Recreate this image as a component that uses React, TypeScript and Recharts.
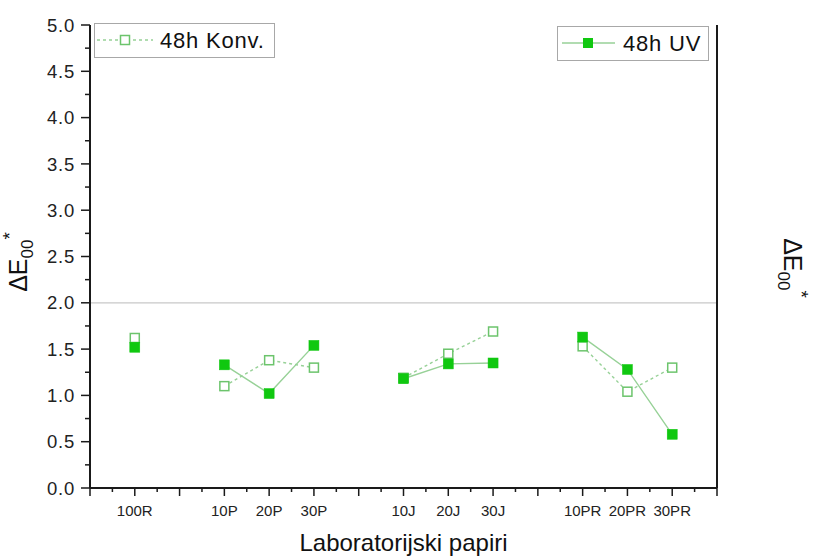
import React from 'react';
import { LineChart, Line, XAxis, YAxis, ReferenceLine } from 'recharts';

// slots on the x axis; empty names are the gaps between paper groups
const categories = ['', '100R', '', '10P', '20P', '30P', '', '10J', '20J', '30J', '', '10PR', '20PR', '30PR', ''];
const konv48h = [null, 1.62, null, 1.1, 1.38, 1.3, null, 1.19, 1.45, 1.69, null, 1.53, 1.04, 1.3, null];
const uv48h = [null, 1.52, null, 1.33, 1.02, 1.54, null, 1.18, 1.34, 1.35, null, 1.63, 1.28, 0.58, null];
const yTicks = [0, 0.5, 1, 1.5, 2, 2.5, 3, 3.5, 4, 4.5, 5];

const data = categories.map((name, i) => ({ name, konv: konv48h[i], uv: uv48h[i] }));

const W = 813;
const H = 559;
const LEFT_W = 90;
const RIGHT_W = 96;
const TOP = 25;
const BOTTOM = 488;
const STEP = (W - LEFT_W - RIGHT_W) / (categories.length - 1);
const HALF_Y = (BOTTOM - TOP) / 20;

const FONT = '"Liberation Sans", Arial, Helvetica, sans-serif';
const INK = '#1a1a1a';
const FILL_GREEN = '#10c810';
const OPEN_GREEN = '#6cc46c';
const LINE_GREEN = '#97d197';

const X_TICK = 8;
const X_GAP = 9;
const Y_TICK = 9;
const Y_GAP = 6;

const XTick = (props: any) => {
  const { x, y, payload, index } = props;
  const axisY = y - X_TICK - X_GAP;
  return (
    <g>
      {index < categories.length - 1 && (
        <line x1={x + STEP / 2} x2={x + STEP / 2} y1={axisY} y2={axisY + 4} stroke={INK} strokeWidth={1.5} />
      )}
      <text x={x} y={y} dy="0.71em" textAnchor="middle" fontSize={15} fill="#222" fontFamily={FONT}>
        {payload.value}
      </text>
    </g>
  );
};

const LeftTick = (props: any) => {
  const { x, y, payload } = props;
  const axisX = x + Y_TICK + Y_GAP;
  return (
    <g>
      {payload.value < 5 && (
        <line x1={axisX - 5} x2={axisX} y1={y - HALF_Y} y2={y - HALF_Y} stroke={INK} strokeWidth={1.5} />
      )}
      <text x={x} y={y} dy="0.36em" textAnchor="end" fontSize={18.5} letterSpacing={0.8} fill="#222" fontFamily={FONT}>
        {payload.value.toFixed(1)}
      </text>
    </g>
  );
};

const RightTick = (props: any) => {
  const { x, y, payload } = props;
  const axisX = x - Y_TICK - Y_GAP;
  return (
    <g>
      {payload.value < 5 && (
        <line x1={axisX} x2={axisX + 5} y1={y - HALF_Y} y2={y - HALF_Y} stroke={INK} strokeWidth={1.5} />
      )}
      <text x={x} y={y} dy="0.36em" textAnchor="start" fontSize={18.5} letterSpacing={0.8} fill="#222" fontFamily={FONT}>
        {payload.value.toFixed(1)}
      </text>
    </g>
  );
};

const OpenSquare = (props: any) => {
  const { cx, cy, index } = props;
  if (cx == null || cy == null) return <g key={`k${index}`} />;
  return <rect key={`k${index}`} x={cx - 4.5} y={cy - 4.5} width={9} height={9} fill="#fff" stroke={OPEN_GREEN} strokeWidth={1.5} />;
};

const FilledSquare = (props: any) => {
  const { cx, cy, index } = props;
  if (cx == null || cy == null) return <g key={`u${index}`} />;
  return <rect key={`u${index}`} x={cx - 5} y={cy - 5} width={10} height={10} fill={FILL_GREEN} stroke={FILL_GREEN} strokeWidth={0.5} />;
};

const DeltaTitle = ({ x, y, angle }: { x: number; y: number; angle: number }) => (
  <g transform={`translate(${x}, ${y}) rotate(${angle})`}>
    <text x={0} y={0} textAnchor="middle" fontSize={25} fill="#111" fontFamily={FONT}>
      ΔE
      <tspan fontSize={17} dy={6}>00</tspan>
      <tspan fontSize={19} dy={-17}>*</tspan>
    </text>
  </g>
);

const App: React.FC = () => {
  return (
    <div style={{ position: 'absolute', left: 0, top: 0, width: W, height: H, background: '#fff', fontFamily: FONT }}>
      <LineChart width={W} height={H} data={data} margin={{ top: TOP, right: 0, left: 0, bottom: H - BOTTOM - 30 }}>
        <XAxis
          dataKey="name"
          interval={0}
          height={30}
          tickSize={X_TICK}
          tickMargin={X_GAP}
          axisLine={{ stroke: INK, strokeWidth: 2 }}
          tickLine={{ stroke: INK, strokeWidth: 1.5 }}
          tick={<XTick />}
        />
        <YAxis
          yAxisId="left"
          domain={[0, 5]}
          ticks={yTicks}
          width={LEFT_W}
          tickSize={Y_TICK}
          tickMargin={Y_GAP}
          axisLine={{ stroke: INK, strokeWidth: 2 }}
          tickLine={{ stroke: INK, strokeWidth: 1.5 }}
          tick={<LeftTick />}
        />
        <YAxis
          yAxisId="right"
          orientation="right"
          domain={[0, 5]}
          ticks={yTicks}
          width={RIGHT_W}
          tickSize={Y_TICK}
          tickMargin={Y_GAP}
          axisLine={{ stroke: INK, strokeWidth: 2 }}
          tickLine={{ stroke: INK, strokeWidth: 1.5 }}
          tick={<RightTick />}
        />
        <ReferenceLine yAxisId="left" y={2} stroke="#c8c8c8" strokeWidth={1.2} />
        <Line
          yAxisId="left"
          dataKey="konv"
          name="48h Konv."
          stroke={LINE_GREEN}
          strokeWidth={1.4}
          strokeDasharray="3 3"
          dot={<OpenSquare />}
          activeDot={false}
          isAnimationActive={false}
        />
        <Line
          yAxisId="left"
          dataKey="uv"
          name="48h UV"
          stroke={LINE_GREEN}
          strokeWidth={1.4}
          dot={<FilledSquare />}
          activeDot={false}
          isAnimationActive={false}
        />
      </LineChart>

      <svg width={W} height={H} style={{ position: 'absolute', left: 0, top: 0, pointerEvents: 'none' }}>
        {/* legend boxes */}
        <rect x={94.5} y={23.5} width={180} height={34} fill="#fff" stroke="#a8a8a8" strokeWidth={1} />
        <line x1={97} x2={153} y1={40} y2={40} stroke={LINE_GREEN} strokeWidth={1.4} strokeDasharray="3 3" />
        <rect x={120.5} y={35.5} width={9} height={9} fill="#fff" stroke={OPEN_GREEN} strokeWidth={1.5} />
        <text x={160} y={48} fontSize={22} letterSpacing={0.8} fill="#111" fontFamily={FONT}>48h Konv.</text>

        <rect x={557.5} y={26.5} width={151} height={34} fill="#fff" stroke="#a8a8a8" strokeWidth={1} />
        <line x1={562} x2={615} y1={43} y2={43} stroke={LINE_GREEN} strokeWidth={1.4} />
        <rect x={583} y={38} width={10} height={10} fill={FILL_GREEN} />
        <text x={623} y={51} fontSize={22} letterSpacing={0.8} fill="#111" fontFamily={FONT}>48h UV</text>

        {/* axis titles */}
        <text x={(LEFT_W + W - RIGHT_W) / 2} y={551} textAnchor="middle" fontSize={24} fill="#111" fontFamily={FONT}>
          Laboratorijski papiri
        </text>
        <DeltaTitle x={27} y={262} angle={-90} />
        <DeltaTitle x={784} y={268} angle={90} />
      </svg>
    </div>
  );
};

export default App;
